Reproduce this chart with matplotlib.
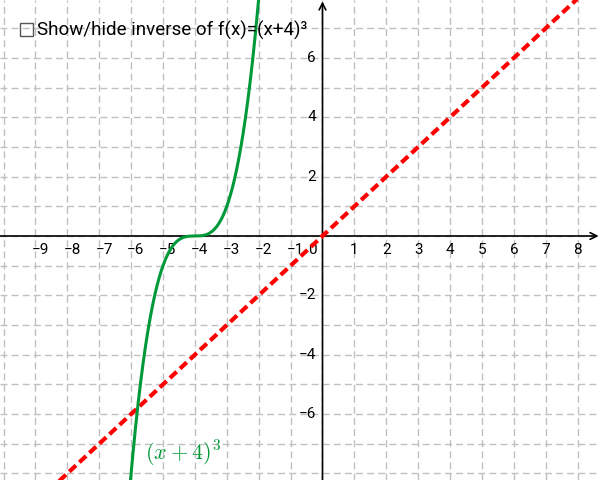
import numpy as np
import matplotlib
matplotlib.use("Agg")
import matplotlib.pyplot as plt
from matplotlib.patches import Rectangle

plt.rcParams['font.family'] = ['Roboto', 'DejaVu Sans']
plt.rcParams['mathtext.fontset'] = 'cm'

# function f(x) = (x + shift)^power and the line y = x
shift = 4
power = 3
x_curve = np.linspace(-6.1, -1.9, 400)
y_curve = (x_curve + shift) ** power
x_line = [-10.2, 8.8]
y_line = [-10.2, 8.8]

x_ticks = [-9, -8, -7, -6, -5, -4, -3, -2, -1, 1, 2, 3, 4, 5, 6, 7, 8]
y_ticks = [-6, -4, -2, 2, 4, 6]
checkbox_label = "Show/hide inverse of f(x)=(x+4)³"
curve_label = r"$(x+4)^3$"

green = '#00993a'
red = '#ff0000'

fig = plt.figure(figsize=(6, 4.8), dpi=100)
ax = fig.add_axes([0, 0, 1, 1])
ax.set_xlim(-10.11, 8.70)
ax.set_ylim(-8.22, 7.95)
ax.axis('off')

# grid
for gx in range(-10, 9):
    ax.axvline(gx, color='#c0c0c0', lw=1, ls=(0, (5, 3)), zorder=0)
for gy in range(-8, 8):
    ax.axhline(gy, color='#c0c0c0', lw=1, ls=(0, (5, 3)), zorder=0)

# axes with open arrows
ax.annotate('', xy=(8.70, 0), xytext=(-10.11, 0),
            arrowprops=dict(arrowstyle='->', color='black', lw=1.2,
                            shrinkA=0, shrinkB=1, mutation_scale=12), zorder=2)
ax.annotate('', xy=(0, 7.95), xytext=(0, -8.22),
            arrowprops=dict(arrowstyle='->', color='black', lw=1.2,
                            shrinkA=0, shrinkB=1, mutation_scale=12), zorder=2)

# tick labels
for t in x_ticks:
    lbl = str(t).replace('-', '\u2212')
    off = 0.15 if t < 0 else 0
    ax.text(t + off, -0.22, lbl, ha='center', va='top', fontsize=11, zorder=3)
ax.text(-0.33, -0.22, '0', ha='center', va='top', fontsize=11, zorder=3)
for t in y_ticks:
    lbl = str(t).replace('-', '\u2212')
    ax.text(-0.2, t, lbl, ha='right', va='center', fontsize=11, zorder=3)

# curves
ax.plot(x_line, y_line, color=red, lw=3, ls=(0, (2.2, 1.1)), zorder=4)
ax.plot(x_curve, y_curve, color=green, lw=2.2, zorder=5)

ax.text(-5.55, -7.35, curve_label, color=green, fontsize=16,
        ha='left', va='center', zorder=6)

# checkbox and label
fig.patches.append(Rectangle((20 / 600, 1 - 36 / 480), 13 / 600, 13 / 480,
                             transform=fig.transFigure, fill=False,
                             edgecolor='#555555', lw=1))
fig.text(37 / 600, 1 - 30 / 480, checkbox_label, fontsize=13.5,
         ha='left', va='center', color='black')

fig.savefig('out.png', dpi=100)
